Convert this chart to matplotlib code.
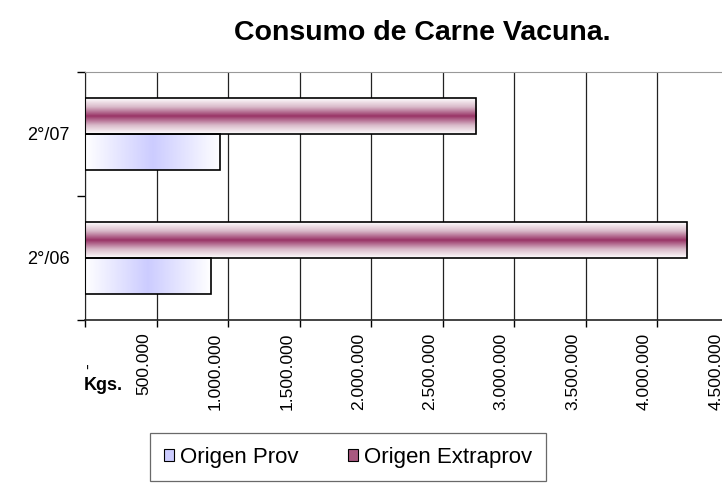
import matplotlib
matplotlib.use("Agg")
import matplotlib.pyplot as plt
import numpy as np
from matplotlib.colors import LinearSegmentedColormap
from matplotlib.patches import Patch
from matplotlib.transforms import ScaledTranslation

plt.rcParams['font.family'] = ['Liberation Sans', 'DejaVu Sans']

periodos = ['2°/06', '2°/07']
origen_prov = [880000, 945000]
origen_extraprov = [4210000, 2735000]
xticks = np.arange(0, 4500001, 500000)

W, H = 722, 488
fig = plt.figure(figsize=(W / 100, H / 100), dpi=100)
ax = fig.add_axes([85 / W, 1 - 320 / H, (729 - 85) / W, (320 - 72) / H])

y = np.arange(len(periodos))
h = 0.29
bars_ext = ax.barh(y + h / 2, origen_extraprov, height=h, facecolor='none',
                   edgecolor='black', linewidth=1.2, zorder=3)
bars_prov = ax.barh(y - h / 2, origen_prov, height=h, facecolor='none',
                    edgecolor='black', linewidth=1.2, zorder=3)

cmap_ext = LinearSegmentedColormap.from_list('ext', ['#ffffff', '#d8b8c8', '#993366'])
cmap_prov = LinearSegmentedColormap.from_list('prov', ['#ffffff', '#ccccff'])


def gradient_fill(patch, cmap, vertical):
    x0, y0 = patch.get_x(), patch.get_y()
    w, hh = patch.get_width(), patch.get_height()
    t = np.linspace(-1, 1, 256)
    g = 1 - np.abs(t)
    img = g[:, None] if vertical else g[None, :]
    im = ax.imshow(img, extent=[x0, x0 + w, y0, y0 + hh], aspect='auto',
                   cmap=cmap, vmin=0, vmax=1, zorder=2.5, interpolation='bilinear')
    im.set_clip_path(patch)


for p in bars_ext:
    gradient_fill(p, cmap_ext, True)
for p in bars_prov:
    gradient_fill(p, cmap_prov, False)

ax.set_xlim(0, 4500000)
ax.set_ylim(-0.5, 1.5)

# ejes
ax.set_xticks(xticks)
labels = ['-'] + [f"{v:,.0f}".replace(',', '.') for v in xticks[1:]]
ax.set_xticklabels(labels, rotation=90, fontsize=12.5)
ax.tick_params(axis='x', direction='out', length=5, width=1, pad=4)
for i, lab in enumerate(ax.get_xticklabels()):
    if i == 0:
        off = ScaledTranslation(4 / 100, -31 / 100, fig.dpi_scale_trans)
    else:
        off = ScaledTranslation(-13 / 100, 0, fig.dpi_scale_trans)
    lab.set_transform(lab.get_transform() + off)
ax.grid(axis='x', color='#222222', linewidth=0.9, zorder=1)
ax.set_axisbelow(True)

ax.set_yticks([-0.5, 0.5, 1.5])
ax.set_yticklabels([])
ax.set_yticks(y, minor=True)
ax.set_yticklabels(periodos, minor=True, fontsize=13)
ax.tick_params(axis='y', which='major', direction='out', length=6, width=1)
ax.tick_params(axis='y', which='minor', length=0, pad=11)

ax.spines['top'].set_color('#999999')
ax.spines['right'].set_visible(False)
ax.spines['left'].set_color('#222222')
ax.spines['bottom'].set_color('#222222')
ax.spines['bottom'].set_linewidth(1.2)

fig.text(422 / W, 1 - 33 / H, 'Consumo de Carne Vacuna.', fontsize=20.5,
         fontweight='bold', ha='center', va='center')
fig.text(84 / W, 1 - 386 / H, 'Kgs.', fontsize=13, fontweight='bold',
         ha='left', va='center')

handles = [Patch(facecolor='#ccccff', edgecolor='black', linewidth=0.8),
           Patch(facecolor='#a8587f', edgecolor='black', linewidth=0.8)]
leg = fig.legend(handles, ['Origen Prov', 'Origen Extraprov'], loc='center',
                 bbox_to_anchor=(348 / W, 1 - 457 / H), ncol=2, fontsize=16,
                 frameon=True, fancybox=False, edgecolor='#444444',
                 handlelength=0.45, handleheight=0.45, handletextpad=0.3,
                 columnspacing=2.2, borderpad=0.6, borderaxespad=0)
leg.get_frame().set_linewidth(0.9)

fig.savefig('out.png', dpi=100)
